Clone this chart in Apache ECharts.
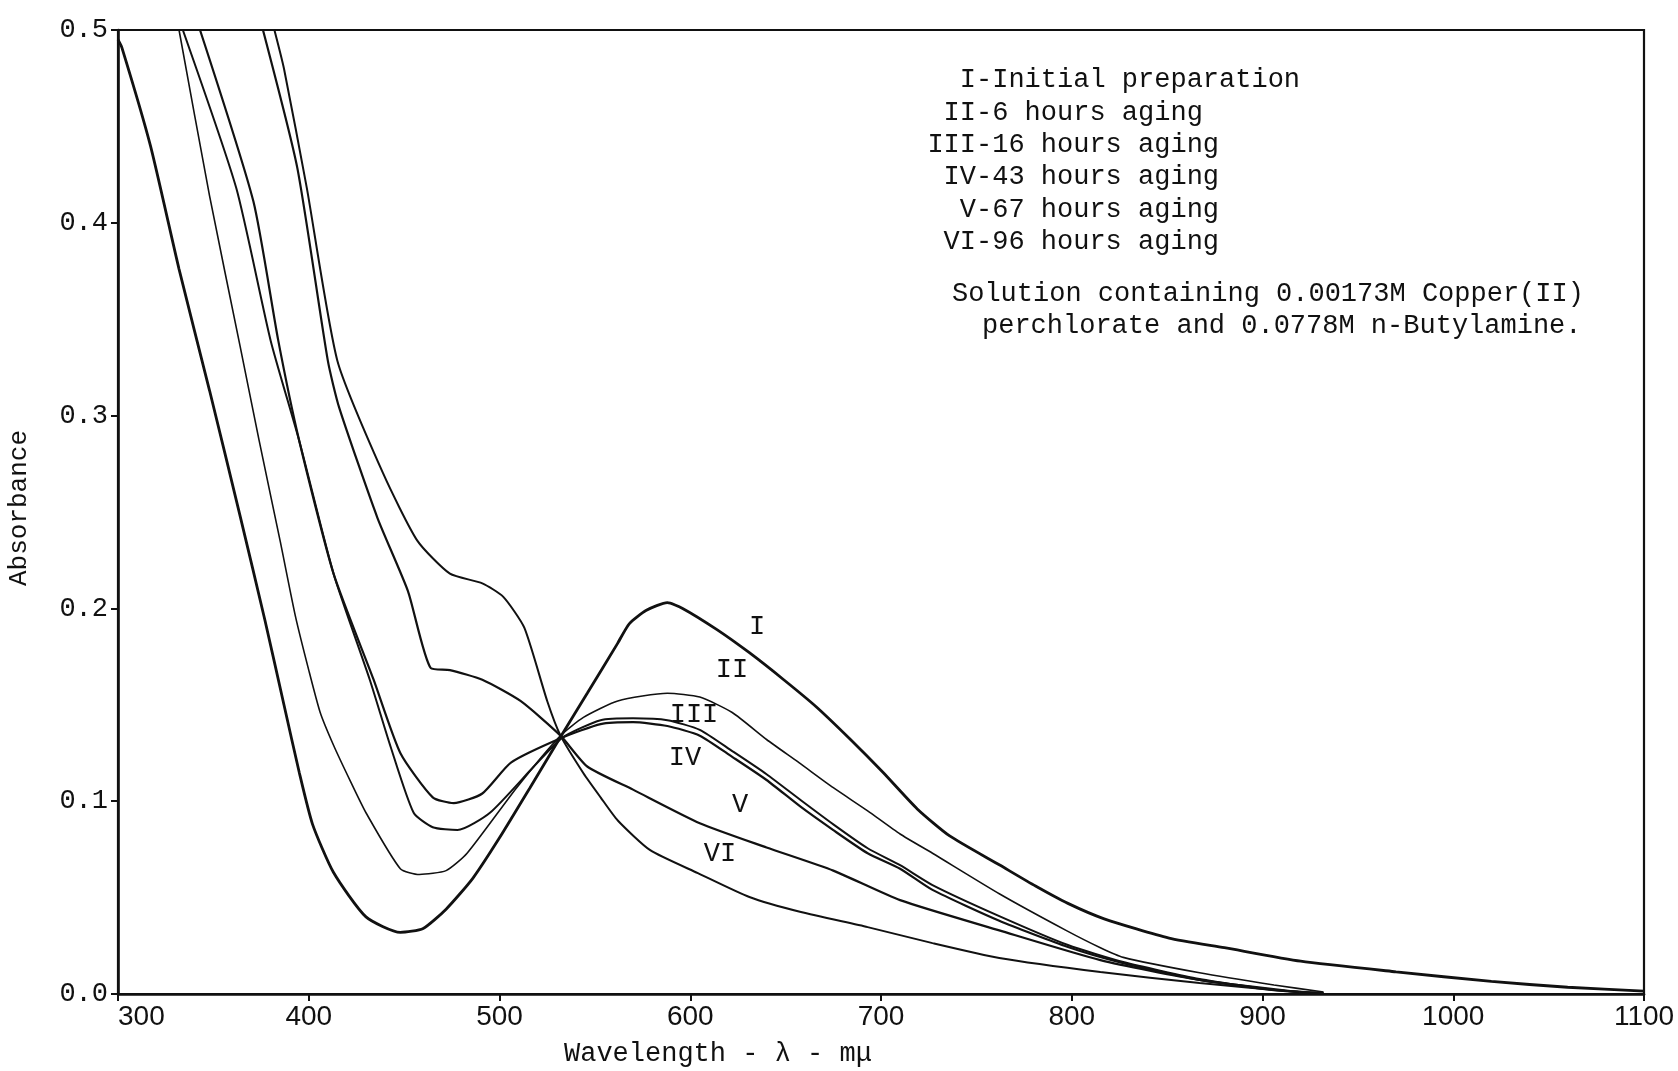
<!DOCTYPE html>
<html>
<head>
<meta charset="utf-8">
<script src="https://cdn.jsdelivr.net/npm/echarts@6/dist/echarts.min.js"></script>
<style>
  html, body { margin: 0; padding: 0; background: #fff; }
  #chart { width: 1678px; height: 1071px; }
</style>
</head>
<body>
<div id="chart"></div>
<script>
// wavelength (mμ) and absorbance, one pair of arrays per curve
const wlI  = [300, 302, 317, 332, 348, 364, 377, 387, 395, 402, 413, 430, 448, 460, 472, 486, 500, 516, 533, 546, 562, 568, 577, 588, 596, 614, 631, 649, 666, 684, 701, 719, 736, 762, 781, 798, 817, 851, 880, 920, 970, 1020, 1060, 1100];
const absI = [0.495, 0.491, 0.440, 0.376, 0.313, 0.248, 0.194, 0.150, 0.115, 0.088, 0.063, 0.040, 0.032, 0.034, 0.044, 0.060, 0.081, 0.107, 0.135, 0.156, 0.182, 0.192, 0.199, 0.203, 0.200, 0.189, 0.177, 0.163, 0.149, 0.132, 0.115, 0.096, 0.082, 0.067, 0.056, 0.047, 0.039, 0.029, 0.024, 0.017, 0.0115, 0.0065, 0.0035, 0.0015];

const wlII  = [332, 348, 364, 374, 385, 393, 400, 406, 413, 422, 430, 448, 458, 472, 483, 509, 532, 544, 562, 588, 605, 622, 640, 657, 675, 693, 710, 727, 762, 797, 815, 827, 867, 906, 932];
const absII = [0.5, 0.414, 0.336, 0.287, 0.235, 0.196, 0.168, 0.146, 0.129, 0.110, 0.094, 0.065, 0.062, 0.064, 0.073, 0.107, 0.134, 0.1435, 0.152, 0.156, 0.154, 0.146, 0.132, 0.120, 0.107, 0.095, 0.083, 0.073, 0.052, 0.033, 0.024, 0.019, 0.011, 0.0047, 0.001];

const wlIII  = [334, 362, 380, 395, 413, 432, 443, 455, 465, 478, 495, 518, 533, 553, 570, 588, 605, 622, 640, 658, 675, 693, 710, 727, 762, 798, 827, 867, 906, 932];
const absIII = [0.5, 0.418, 0.339, 0.287, 0.218, 0.163, 0.128, 0.094, 0.0865, 0.085, 0.094, 0.118, 0.133, 0.142, 0.143, 0.142, 0.137, 0.126, 0.114, 0.1005, 0.088, 0.0756, 0.0668, 0.0565, 0.0404, 0.0254, 0.0166, 0.0078, 0.0021, 0.0005];

const wlIV  = [343, 371, 384, 395, 413, 434, 448, 465, 476, 491, 506, 533, 553, 570, 588, 605, 622, 640, 658, 675, 693, 710, 727, 762, 798, 827, 867, 906, 932];
const absIV = [0.5, 0.411, 0.339, 0.287, 0.218, 0.163, 0.125, 0.102, 0.099, 0.104, 0.120, 0.133, 0.140, 0.141, 0.139, 0.134, 0.123, 0.111, 0.097, 0.085, 0.073, 0.065, 0.054, 0.038, 0.0244, 0.016, 0.0073, 0.002, 0.0005];

const wlV  = [376, 394, 410, 416, 436, 452, 464, 474, 491, 511, 532, 546, 570, 605, 640, 675, 710, 762, 815, 867, 919];
const absV = [0.5, 0.4285, 0.3285, 0.304, 0.247, 0.209, 0.169, 0.168, 0.163, 0.152, 0.134, 0.118, 0.106, 0.0886, 0.076, 0.064, 0.0487, 0.033, 0.0176, 0.0073, 0.001];

const wlVI  = [382, 387, 399, 415, 439, 457, 474, 491, 502, 513, 525, 532, 544, 553, 562, 579, 604, 631, 658, 693, 727, 762, 815, 867, 919];
const absVI = [0.5, 0.48, 0.418, 0.3285, 0.27, 0.235, 0.218, 0.213, 0.206, 0.19, 0.152, 0.134, 0.1145, 0.102, 0.090, 0.0746, 0.0627, 0.0503, 0.0425, 0.0347, 0.0264, 0.0187, 0.0114, 0.0057, 0.001];

const curveNames = ['I', 'II', 'III', 'IV', 'V', 'VI'];
const legendRest = ['-Initial preparation', '-6 hours aging', '-16 hours aging', '-43 hours aging', '-67 hours aging', '-96 hours aging'];
const noteLines = ['Solution containing 0.00173M Copper(II)', 'perchlorate and 0.0778M n-Butylamine.'];

const mono = '"Liberation Mono", "DejaVu Sans Mono", monospace';
const ink = '#111';

function pairs(wl, ab) {
  return wl.map((w, i) => [w, ab[i]]);
}

const curves = [
  { data: pairs(wlI, absI), width: 2.8 },
  { data: pairs(wlII, absII), width: 1.6 },
  { data: pairs(wlIII, absIII), width: 2.0 },
  { data: pairs(wlIV, absIV), width: 2.2 },
  { data: pairs(wlV, absV), width: 2.2 },
  { data: pairs(wlVI, absVI), width: 2.0 },
];

// text block top right
const graphics = [];
curveNames.forEach((n, i) => {
  const y = 80 + i * 32.4;
  graphics.push({ type: 'text', x: 976, y: y, style: { text: n, font: '27px ' + mono, fill: ink, textAlign: 'right', textVerticalAlign: 'middle' } });
  graphics.push({ type: 'text', x: 976, y: y, style: { text: legendRest[i], font: '27px ' + mono, fill: ink, textAlign: 'left', textVerticalAlign: 'middle' } });
});
graphics.push({ type: 'text', x: 952, y: 294, style: { text: noteLines[0], font: '27px ' + mono, fill: ink, textVerticalAlign: 'middle' } });
graphics.push({ type: 'text', x: 982, y: 326, style: { text: noteLines[1], font: '27px ' + mono, fill: ink, textVerticalAlign: 'middle' } });

// roman numerals next to the curves
const tagPos = [[757, 627], [732, 670], [694, 715], [685, 758], [740, 805], [720, 854]];
curveNames.forEach((n, i) => {
  graphics.push({ type: 'text', x: tagPos[i][0], y: tagPos[i][1], style: { text: n, font: '27px ' + mono, fill: ink, textAlign: 'center', textVerticalAlign: 'middle' } });
});

// axis titles
graphics.push({ type: 'text', x: 564, y: 1054, style: { text: 'Wavelength - λ - mμ', font: '27px ' + mono, fill: ink, textVerticalAlign: 'middle' } });
graphics.push({ type: 'text', x: 19, y: 508, rotation: Math.PI / 2, style: { text: 'Absorbance', font: '26px ' + mono, fill: ink, textAlign: 'center', textVerticalAlign: 'middle' } });

const chart = echarts.init(document.getElementById('chart'));
chart.setOption({
  animation: false,
  backgroundColor: '#fff',
  grid: { left: 118, right: 34, top: 30, bottom: 77, show: true, borderColor: ink, borderWidth: 2.2 },
  xAxis: {
    type: 'value', min: 300, max: 1100, interval: 100,
    axisLine: { lineStyle: { color: ink, width: 2.6 } },
    axisTick: { show: true, inside: false, length: 7, lineStyle: { color: ink, width: 2 } },
    axisLabel: { color: ink, fontFamily: '"Liberation Sans", Arial, sans-serif', fontSize: 28, margin: 9, alignMinLabel: 'left', formatter: v => String(v) },
    splitLine: { show: false },
  },
  yAxis: {
    type: 'value', min: 0, max: 0.5, interval: 0.1,
    axisLine: { show: true, lineStyle: { color: ink, width: 2.6 } },
    axisTick: { show: true, inside: false, length: 7, lineStyle: { color: ink, width: 2 } },
    axisLabel: { color: ink, fontFamily: mono, fontSize: 27, margin: 10, formatter: v => v.toFixed(1) },
    splitLine: { show: false },
  },
  series: curves.map((c, i) => ({
    name: curveNames[i],
    type: 'line',
    data: c.data,
    symbol: 'none',
    smooth: 0.2,
    lineStyle: { color: ink, width: c.width },
  })),
  graphic: graphics,
});
</script>
</body>
</html>
